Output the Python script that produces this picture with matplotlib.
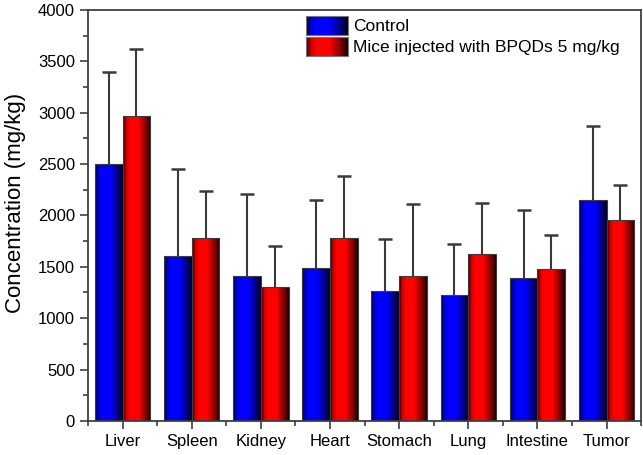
import numpy as np
import matplotlib.pyplot as plt
from matplotlib.legend_handler import HandlerBase
from matplotlib.image import BboxImage
from matplotlib.transforms import Bbox, TransformedBbox
from matplotlib.patches import Rectangle
from matplotlib.ticker import MultipleLocator

plt.rcParams['font.family'] = ['Liberation Sans', 'DejaVu Sans']

organs = ['Liver', 'Spleen', 'Kidney', 'Heart', 'Stomach', 'Lung', 'Intestine', 'Tumor']
control = [2500, 1609, 1411, 1492, 1268, 1226, 1392, 2148]
control_sd = [897, 843, 795, 662, 506, 500, 662, 726]
bpqds = [2965, 1784, 1307, 1784, 1414, 1625, 1479, 1953]
bpqds_sd = [655, 451, 396, 604, 701, 494, 331, 347]
labels = ['Control', 'Mice injected with BPQDs 5 mg/kg']


def gradient(color):
    # dark edges, bright just left of centre (Origin style shading)
    t = np.linspace(0, 1, 256)
    shade = np.interp(t, [0, 0.12, 0.25, 0.55, 0.8, 1.0], [0.15, 0.8, 1.0, 1.0, 0.55, 0.1])
    row = np.array(color)[None, :] * shade[:, None]
    return np.repeat(row[None, :, :], 8, axis=0).clip(0, 1)


blue_img = gradient((0, 0, 1))
red_img = gradient((1, 0, 0))


class GradientHandler(HandlerBase):
    def __init__(self, img):
        super().__init__()
        self.img = img

    def create_artists(self, legend, orig_handle, xdescent, ydescent, width, height, fontsize, trans):
        bb = TransformedBbox(Bbox.from_bounds(-xdescent, -ydescent, width, height), trans)
        im = BboxImage(bb, interpolation='nearest')
        im.set_data(self.img)
        edge = Rectangle((-xdescent, -ydescent), width, height, facecolor='none',
                         edgecolor='#777777', linewidth=0.8, transform=trans)
        return [im, edge]


fig = plt.figure(figsize=(6.43, 4.55), dpi=100)
ax = fig.add_axes([0.137, 0.075, 0.860, 0.903])

x = np.arange(len(organs))
w = 0.4
zeros = np.zeros(len(organs))

for offs, vals, sd, img in [(-w / 2, control, control_sd, blue_img), (w / 2, bpqds, bpqds_sd, red_img)]:
    bars = ax.bar(x + offs, vals, w, facecolor='none', edgecolor='#3c3c3c', linewidth=0.8, zorder=3)
    for p in bars:
        im = ax.imshow(img, extent=[p.get_x(), p.get_x() + p.get_width(), 0, 4000],
                       aspect='auto', interpolation='nearest', zorder=2)
        im.set_clip_path(p)
    eb = ax.errorbar(x + offs, vals, yerr=[zeros, sd], fmt='none', ecolor='#3a3a3a',
                     elinewidth=1.5, capsize=4.7, capthick=1.8, zorder=1)
    eb[1][0].set_visible(False)  # no cap at the bar top

ax.set_xlim(-0.5, 7.5)
ax.set_ylim(0, 4000)
ax.set_xticks(x)
ax.set_xticklabels(organs)
ax.set_xticks(np.arange(-0.5, 8, 1), minor=True)
ax.yaxis.set_major_locator(MultipleLocator(500))
ax.yaxis.set_minor_locator(MultipleLocator(250))
ax.tick_params(which='major', direction='out', length=6, width=1.2, color='#404040', labelsize=12)
ax.tick_params(which='minor', direction='out', length=3.5, width=1.2, color='#404040')
for s in ax.spines.values():
    s.set_color('#404040')
    s.set_linewidth(1.3)

ax.set_ylabel('Concentration (mg/kg)', fontsize=16)
ax.yaxis.set_label_coords(-0.112, 0.53)

h1 = Rectangle((0, 0), 1, 1)
h2 = Rectangle((0, 0), 1, 1)
ax.legend([h1, h2], labels, handler_map={h1: GradientHandler(blue_img), h2: GradientHandler(red_img)},
          loc='upper left', bbox_to_anchor=(0.394, 0.985), frameon=False, fontsize=12.5,
          handlelength=2.4, handleheight=1.3, handletextpad=0.3, labelspacing=0.1,
          borderpad=0, borderaxespad=0)

fig.savefig('out.png', dpi=100)
